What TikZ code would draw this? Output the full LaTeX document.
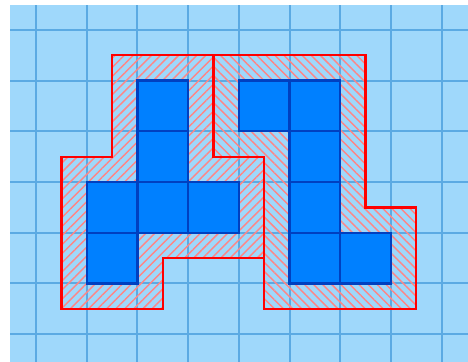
\documentclass[tikz,border=0pt]{standalone}
\usetikzlibrary{patterns.meta}
\definecolor{bgblue}{HTML}{9FD8FB}
\definecolor{gridblue}{HTML}{5BAAE3}
\definecolor{cellblue}{HTML}{0080FF}
\definecolor{celledge}{HTML}{0040C0}
\definecolor{hatchred}{HTML}{FF8585}
\tikzset{
  gridline/.style={draw=gridblue, line width=1.1pt},
  cell/.style={fill=cellblue, draw=celledge, line width=1.3pt},
  hatchA/.style={pattern={Lines[angle=45,distance=3.6pt,line width=0.8pt]}, pattern color=hatchred},
  hatchB/.style={pattern={Lines[angle=-45,distance=3.6pt,line width=0.8pt]}, pattern color=hatchred},
  outline/.style={draw=red, line width=1.3pt, line join=miter}
}
\begin{document}
\begin{tikzpicture}[x=1cm, y={(0,-1cm)}]
\useasboundingbox (-0.71,-0.59) rectangle (8.52,6.53);
\fill[bgblue] (-0.51,-0.49) rectangle (8.6,6.6);
\foreach \i in {0,...,8} \draw[gridline] (\i,-0.49) -- (\i,6.6);
\foreach \j in {0,...,6} \draw[gridline] (-0.51,\j) -- (8.6,\j);
% hatched regions
\path[hatchA] (1.5,0.5) -- (3.5,0.5) -- (3.5,2.5) -- (4.5,2.5) -- (4.5,4.5) -- (2.5,4.5) -- (2.5,5.5) -- (0.5,5.5) -- (0.5,2.5) -- (1.5,2.5) -- cycle;
\path[hatchB] (3.5,0.5) -- (6.5,0.5) -- (6.5,3.5) -- (7.5,3.5) -- (7.5,5.5) -- (4.5,5.5) -- (4.5,2.5) -- (3.5,2.5) -- cycle;
% cells
\foreach \c/\r in {2/1,2/2,1/3,2/3,3/3,1/4,4/1,5/1,5/2,5/3,5/4,6/4}
  \draw[cell] (\c,\r) rectangle ++(1,1);
% outlines
\draw[outline] (1.5,0.5) -- (3.5,0.5) -- (3.5,2.5) -- (4.5,2.5) -- (4.5,4.5) -- (2.5,4.5) -- (2.5,5.5) -- (0.5,5.5) -- (0.5,2.5) -- (1.5,2.5) -- cycle;
\draw[outline] (3.5,0.5) -- (6.5,0.5) -- (6.5,3.5) -- (7.5,3.5) -- (7.5,5.5) -- (4.5,5.5) -- (4.5,2.5) -- (3.5,2.5) -- cycle;
\end{tikzpicture}
\end{document}
